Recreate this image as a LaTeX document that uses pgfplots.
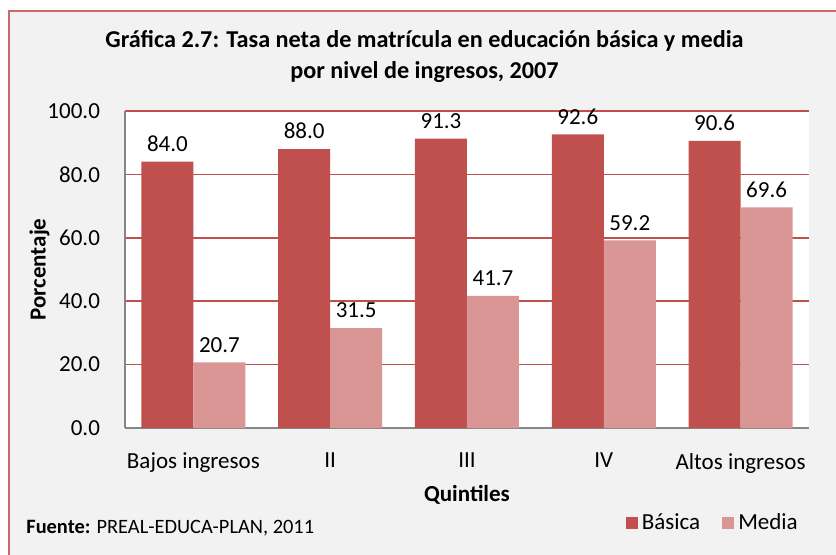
\documentclass[border=0pt]{standalone}
\usepackage{fontspec}
\setmainfont{Carlito}
\usepackage{pgfplots}
\pgfplotsset{compat=1.18}
\definecolor{basica}{HTML}{C0504D}
\definecolor{media}{HTML}{D99694}
\definecolor{panel}{HTML}{F2F2F2}
\definecolor{axisgray}{HTML}{868686}
\newcommand{\fs}{\fontsize{11.5}{14}\selectfont}

\begin{document}
\begin{tikzpicture}[x=1pt,y=1pt]
\useasboundingbox (0,0) rectangle (418,-277);
\fill[white] (0,0) rectangle (418,-277);
\filldraw[fill=panel, draw=basica!85, line width=1.1pt] (4.5,-5.5) rectangle (425,-285);
\node[align=center, font=\fontsize{12.1}{15.5}\selectfont\bfseries] at (212.25,-28.5)
  {Gráfica 2.7: Tasa neta de matrícula en educación básica y media\\por nivel de ingresos, 2007};
\node[anchor=west, font=\fontsize{10.2}{12}\selectfont, inner sep=0pt] at (13,-264)
  {\textbf{Fuente:} PREAL-EDUCA-PLAN, 2011};

\begin{axis}[
  at={(62.5pt,-214pt)}, anchor=south west,
  scale only axis, width=342pt, height=158.5pt,
  axis background/.style={fill=white},
  ybar=0pt, bar width=26pt,
  xmin=-0.5, xmax=4.5, ymin=0, ymax=100,
  xtick={0,1,2,3,4},
  xticklabels={Bajos ingresos, II, III, IV, Altos ingresos},
  ytick={0,20,40,60,80,100},
  /pgf/number format/assume math mode=true,
  yticklabel={\pgfmathprintnumber[fixed,fixed zerofill,precision=1]{\tick}},
  tick label style={font=\fs, text=black},
  yticklabel style={xshift=-9pt},
  xticklabel style={yshift=-9pt},
  major tick length=0pt,
  axis x line*=bottom, axis y line*=left,
  axis line style={draw=axisgray, line width=0.8pt, -},
  ymajorgrids, grid style={draw=basica, line width=0.8pt},
  xlabel={\textbf{Quintiles}}, ylabel={\textbf{Porcentaje}},
  every axis x label/.style={at={(rel axis cs:0.5,-0.21)}, anchor=center, font=\fs},
  every axis y label/.style={at={(rel axis cs:-0.125,0.5)}, anchor=center, rotate=90, font=\fs},
  nodes near coords={\pgfmathprintnumber[fixed,fixed zerofill,precision=1]{\pgfplotspointmeta}},
  every node near coord/.append style={font=\fs, text=black, yshift=1.5pt},
  legend style={at={(0.99,-0.30)}, anchor=east, draw=none, fill=none, font=\fs,
    inner sep=0pt, /tikz/every even column/.append style={column sep=9pt}},
  legend columns=2,
  legend image code/.code={\fill[#1] (0pt,-3pt) rectangle (6pt,3pt);},
]
\addplot[fill=basica, draw=none] coordinates {(0,84.0) (1,88.0) (2,91.3) (3,92.6) (4,90.6)};
\addlegendentry{Básica}
\addplot[fill=media, draw=none] coordinates {(0,20.7) (1,31.5) (2,41.7) (3,59.2) (4,69.6)};
\addlegendentry{Media}
\end{axis}
\end{tikzpicture}
\end{document}
